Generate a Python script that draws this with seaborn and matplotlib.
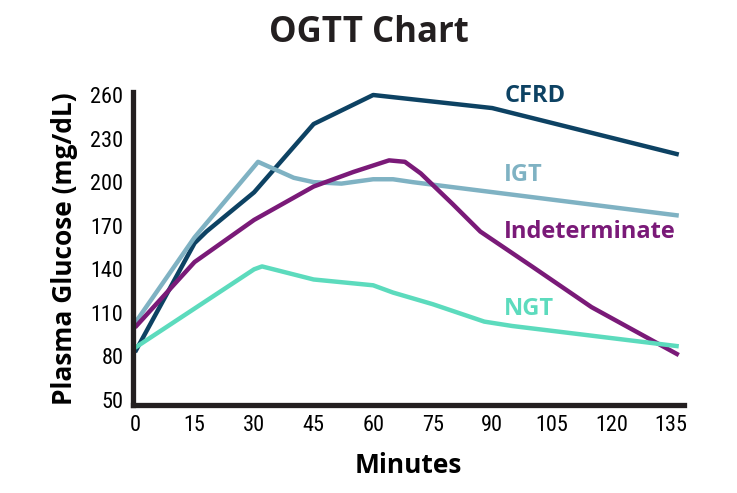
import pandas as pd
import numpy as np
import matplotlib
matplotlib.use("Agg")
import matplotlib.pyplot as plt
from matplotlib import font_manager
import seaborn as sns

## data
cfrd_x = [0, 15, 18, 30, 45, 60, 90, 137]
cfrd_y = [83, 158, 166, 193, 240, 260, 251, 219]

igt_x = [0, 15, 31, 40, 45, 52, 60, 65, 70, 137]
igt_y = [103, 162, 214, 203, 200, 199, 202, 202, 200, 177]

ind_x = [0, 15, 30, 45, 55, 64, 68, 72, 80, 87, 100, 115, 137]
ind_y = [100, 145, 174, 197, 207, 215, 214, 206, 185, 166, 142, 114, 81]

ngt_x = [0, 15, 30, 32, 45, 60, 65, 75, 88, 95, 137]
ngt_y = [86, 113, 140, 142, 133, 129, 124, 116, 104, 101, 87]

x_ticks = [0, 15, 30, 45, 60, 75, 90, 105, 120, 135]
y_ticks = [50, 80, 110, 140, 170, 200, 230, 260]

series = [
    ("CFRD", cfrd_x, cfrd_y, "#0d4263", 259),
    ("IGT", igt_x, igt_y, "#7fb2c3", 205),
    ("Indeterminate", ind_x, ind_y, "#7a1a78", 166),
    ("NGT", ngt_x, ngt_y, "#5cdbbd", 113),
]

sns.set_style("white")
plt.rcParams['font.family'] = ['Open Sans', 'DejaVu Sans']

# narrow face for the tick numbers, whichever is installed
names = {f.name for f in font_manager.fontManager.ttflist}
narrow = "Open Sans"
for cand in ["Liberation Sans Narrow", "DejaVu Sans Condensed", "Roboto Condensed", "Open Sans Condensed"]:
    if cand in names:
        narrow = cand
        break

fig = plt.figure(figsize=(7.37, 4.93), dpi=100)
ax = fig.add_axes([0.1805, 0.1785, 0.7475, 0.635])

for name, xs, ys, col, ly in series:
    sns.lineplot(x=xs, y=ys, ax=ax, color=col, linewidth=3.2, sort=False,
                 solid_joinstyle="round", solid_capstyle="butt")
    ax.text(93, ly, name, color=col, fontsize=17, fontweight="bold",
            ha="left", va="center")

ax.set_xlim(-0.5, 138.3)
ax.set_ylim(46.6, 262.1)
ax.set_xticks(x_ticks)
ax.set_yticks(y_ticks)
ax.tick_params(length=0, labelsize=16, pad=7, labelcolor="black")
for lab in ax.get_xticklabels() + ax.get_yticklabels():
    lab.set_family([narrow, 'DejaVu Sans'])

sns.despine(ax=ax)
for s in ["left", "bottom"]:
    ax.spines[s].set_linewidth(3.8)
    ax.spines[s].set_color("#231f20")

ax.set_xlabel("Minutes", fontsize=19, fontweight="bold", color="black", labelpad=12)
ax.set_ylabel("Plasma Glucose (mg/dL)", fontsize=19, fontweight="bold", color="black", labelpad=9)
fig.suptitle("OGTT Chart", x=0.5, y=0.97, fontsize=25, fontweight="bold", color="#231f20")

plt.savefig("out.png", dpi=100)
